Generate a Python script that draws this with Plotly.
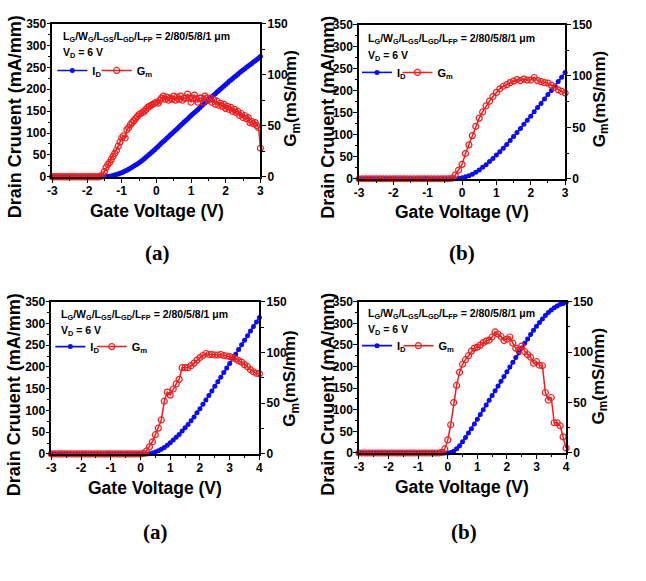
import plotly.graph_objects as go

W, H = 646, 581

# ---------------- data ----------------
# gate-voltage sweep grids
vg_a = [round(-3 + 0.05 * i, 2) for i in range(121)]
vg_b = [round(-3 + 0.1 * i, 1) for i in range(61)]
vg_c = [round(-3 + 0.1 * i, 1) for i in range(71)]
vg_d = [round(-3 + 0.1 * i, 1) for i in range(71)]

# panel (a) top-left, drain current (mA/mm), step 0.05 V
id_a = [0, 0, 0, 0, 0, 0, 0, 0, 0, 0,
        0, 0, 0, 0, 0, 0, 0, 0, 0, 0,
        0, 0, 0, 0, 0, 0, 0, 0, 0, 0,
        0.2, 0.5, 1, 1.5, 2, 3, 4, 5, 6.5, 8, 9.5,
        11, 13, 15, 17, 19.5, 22, 24.5, 27, 29.5, 32,
        35, 38, 41, 44.5, 48, 51.5, 55, 58.5, 62, 66,
        69.5, 73, 77, 80.5, 84, 88, 91.5, 95.5, 99, 103,
        106.5, 110, 114, 117.5, 121, 125, 128.5, 132, 136, 140,
        143.5, 147, 150.5, 154, 158, 161.5, 165, 168.5, 172, 176,
        179.5, 183, 186.5, 190, 193.5, 197, 200.5, 204, 207.5, 211,
        214.5, 218, 221, 224.5, 228, 231, 234.5, 237.5, 241, 244,
        247, 250, 253, 256, 259, 262, 265, 268, 271.5, 275]
# panel (a) transconductance (mS/mm)
gm_a = [0, 0, 0, 0, 0, 0, 0, 0, 0, 0,
        0, 0, 0, 0, 0, 0, 0, 0, 0, 0,
        0, 0, 0, 0, 0, 0, 0, 0,
        0.6, 2, 5, 9, 12, 14, 17, 20, 23, 26, 30, 34, 38,
        40, 38, 46, 48, 51, 53, 55, 57, 59, 61,
        62, 63, 64, 66, 68, 69, 70, 71, 72, 73,
        72, 75, 77, 79, 76, 78, 75, 77, 76, 79,
        75, 78, 76, 79, 75, 77, 77, 81, 77, 73,
        77, 80, 76, 73, 77, 77, 73, 79, 77, 75,
        77, 73, 76, 71, 74, 70, 72, 69, 71, 67,
        69, 66, 68, 64, 66, 63, 64, 60, 62, 58,
        60, 57, 58, 53, 54, 52, 53, 50, 48, 28]

# panel (b) top-right, step 0.1 V
id_b = [0, 0, 0, 0, 0, 0, 0, 0, 0, 0,
        0, 0, 0, 0, 0, 0, 0, 0, 0, 0,
        0, 0, 0, 0, 0, 0, 0, 0,
        0.3, 1, 2.5, 4.5, 7, 10.5, 15, 20, 26, 32, 39, 46, 54,
        61.5, 69.5, 78, 87, 96, 105, 114, 123.5, 133, 142,
        152, 161.5, 171, 181, 191, 200.5, 210.5, 220.5, 230.5, 241]
gm_b = [0, 0, 0, 0, 0, 0, 0, 0, 0, 0,
        0, 0, 0, 0, 0, 0, 0, 0, 0, 0,
        0, 0, 0, 0, 0, 0, 0,
        0.5, 3.5, 8.5, 14, 24.5, 33, 42, 51, 59, 65,
        71, 75.5, 80, 84, 87.5, 90, 91.5, 93.5, 95, 96.5,
        95.5, 97, 96, 96, 98.5, 95.5, 94.5, 93.5, 93, 91,
        89, 86.5, 85, 83.5]

# panel (c) bottom-left, step 0.1 V
id_c = [0, 0, 0, 0, 0, 0, 0, 0, 0, 0,
        0, 0, 0, 0, 0, 0, 0, 0, 0, 0,
        0, 0, 0, 0, 0, 0, 0, 0, 0, 0,
        0, 0, 0,
        0.5, 2, 4.5, 7.5, 11, 15, 20, 26,
        32, 38.5, 45, 52.5, 60, 68, 76.5, 85, 94.5, 104,
        114, 124, 134.5, 145, 155.5, 166, 176.5, 187, 197.5, 208,
        219, 229.5, 240, 251, 261.5, 272, 282.5, 293, 303.5, 314]
gm_c = [0, 0, 0, 0, 0, 0, 0, 0, 0, 0,
        0, 0, 0, 0, 0, 0, 0, 0, 0, 0,
        0, 0, 0, 0, 0, 0, 0, 0, 0, 0,
        0,
        0.5, 3, 7, 12, 19, 25.5, 33.5, 52, 61, 58,
        64, 69, 73.5, 85, 85, 85, 87, 89.5, 92.5, 95,
        97, 99, 98, 98, 97.5, 97.5, 98, 97, 96.5, 96,
        95, 93.5, 92, 90.5, 88, 86, 83, 81, 79.5, 79]

# panel (d) bottom-right, step 0.1 V
id_d = [0, 0, 0, 0, 0, 0, 0, 0, 0, 0,
        0, 0, 0, 0, 0, 0, 0, 0, 0, 0,
        0, 0, 0, 0, 0, 0, 0, 0, 0, 0,
        0,
        1, 4, 10, 17, 26, 36, 46, 56, 67, 78,
        89, 100, 111, 122, 133, 144, 155, 166, 177, 188,
        199, 210, 221, 232, 243, 254, 264, 274, 284, 293,
        302, 310, 318, 325, 331, 336, 340, 344, 346, 348]
gm_d = [0, 0, 0, 0, 0, 0, 0, 0, 0, 0,
        0, 0, 0, 0, 0, 0, 0, 0, 0, 0,
        0, 0, 0, 0, 0, 0, 0, 0,
        0.6, 4, 13, 28, 50, 67, 80, 88, 92.5, 96.5,
        101, 104, 105, 107, 109.5, 111, 112, 115, 120, 118,
        115.5, 111.5, 113, 115, 109, 104, 102, 106, 100.5, 97.5,
        95, 89, 90.5, 87, 86.5, 60, 52.5, 55, 30, 30,
        27, 16, 5]

for v, a, b in [(vg_a, id_a, gm_a), (vg_b, id_b, gm_b), (vg_c, id_c, gm_c), (vg_d, id_d, gm_d)]:
    assert len(v) == len(a) == len(b), (len(v), len(a), len(b))

xtick_vals_3 = [-3, -2, -1, 0, 1, 2, 3]
xtick_text_3 = ["-3", "-2", "-1", "0", "1", "2", "3"]
xtick_vals_4 = [-3, -2, -1, 0, 1, 2, 3, 4]
xtick_text_4 = ["-3", "-2", "-1", "0", "1", "2", "3", "4"]

panel_labels = ["(a)", "(b)", "(a)", "(b)"]
x_title = "Gate Voltage (V)"
yl_title = "Drain Cruuent (mA/mm)"
yr_title = "G<sub>m</sub>(mS/mm)"
note1 = "L<sub>G</sub>/W<sub>G</sub>/L<sub>GS</sub>/L<sub>GD</sub>/L<sub>FP</sub> = 2/80/5/8/1 \u03bcm"
note2 = "V<sub>D</sub> = 6 V"
name_id = "I<sub>D</sub>"
name_gm = "G<sub>m</sub>"

# ---------------- layout geometry (pixels) ----------------
panels = [
    dict(v=vg_a, i=id_a, g=gm_a, box=(48, 259, 17, 174), xr=[-3, 3], tv=xtick_vals_3, tt=xtick_text_3,
         xt=(154, 209), ylt=(10, 112), yrt=(291, 93), lab=(155, 252), n1=(57, 31), n2=(57, 47),
         leg=(57, 98, 65)),
    dict(v=vg_b, i=id_b, g=gm_b, box=(359, 568, 18, 176), xr=[-3, 3], tv=xtick_vals_3, tt=xtick_text_3,
         xt=(463, 210), ylt=(328, 113), yrt=(604, 94), lab=(463, 252), n1=(366, 33), n2=(366, 50),
         leg=(366, 403, 67)),
    dict(v=vg_c, i=id_c, g=gm_c, box=(47, 258, 302, 458), xr=[-3, 4], tv=xtick_vals_4, tt=xtick_text_4,
         xt=(152, 493), ylt=(10, 397), yrt=(290, 380), lab=(153, 538), n1=(55, 316), n2=(55, 332),
         leg=(55, 93, 348)),
    dict(v=vg_d, i=id_d, g=gm_d, box=(359, 569, 302, 457), xr=[-3, 4], tv=xtick_vals_4, tt=xtick_text_4,
         xt=(463, 492), ylt=(328, 397), yrt=(603, 378), lab=(465, 538), n1=(366, 315), n2=(366, 331),
         leg=(366, 404, 347)),
]

BLUE = "#0a0aff"
RED = "#f41c1c"
SANS = "Liberation Sans, Arial, sans-serif"
SERIF = "Liberation Serif, Times New Roman, serif"


def fx(px):
    return px / W


def fy(py):
    return 1 - py / H


fig = go.Figure()
layout = dict(
    width=W, height=H, margin=dict(l=0, r=0, t=0, b=0),
    paper_bgcolor="white", plot_bgcolor="white", showlegend=True,
    annotations=[],
)

tickfont = dict(family=SANS, size=12, color="black", weight="bold")
axis_common = dict(showline=True, linecolor="black", linewidth=1.5, showgrid=False, zeroline=False,
                   ticks="outside", ticklen=4, tickwidth=1.3, tickcolor="black", tickfont=tickfont,
                   fixedrange=True)

for k, p in enumerate(panels):
    sx = "" if k == 0 else str(k + 1)
    xa = "x" + sx
    yl_n = 2 * k + 1
    yr_n = 2 * k + 2
    yl = "y" if yl_n == 1 else f"y{yl_n}"
    yr = f"y{yr_n}"
    x0, x1, top, bot = p["box"]
    leg_id = "legend" if k == 0 else f"legend{2 * k + 1}"
    leg_gm = f"legend{2 * k + 2}"

    fig.add_trace(go.Scatter(
        x=p["v"], y=p["i"], xaxis=xa, yaxis=yl, mode="lines+markers", name=name_id,
        line=dict(color=BLUE, width=1.6), marker=dict(symbol="circle", size=5, color=BLUE),
        cliponaxis=False, legend=leg_id, hoverinfo="skip"))
    fig.add_trace(go.Scatter(
        x=p["v"], y=p["g"], xaxis=xa, yaxis=yr, mode="lines+markers", name=name_gm,
        line=dict(color=RED, width=1.5),
        marker=dict(symbol="circle-open", size=6, color=RED, line=dict(width=1.2)),
        cliponaxis=False, legend=leg_gm, hoverinfo="skip"))

    layout["xaxis" + sx] = dict(axis_common, domain=[fx(x0), fx(x1)], range=p["xr"], anchor=yl,
                                tickvals=p["tv"], ticktext=p["tt"], mirror=True, ticklabelstandoff=-2,
                                minor=dict(ticks="outside", ticklen=2.5, tickwidth=1.2, dtick=0.5,
                                           tickcolor="black"))
    layout["yaxis" + ("" if yl_n == 1 else str(yl_n))] = dict(
        axis_common, domain=[fy(bot), fy(top)], range=[0, 350], anchor=xa, dtick=50, side="left",
        ticklabelstandoff=-2,
        minor=dict(ticks="outside", ticklen=2.5, tickwidth=1.2, dtick=25, tickcolor="black"))
    layout["yaxis" + str(yr_n)] = dict(
        axis_common, range=[0, 150], anchor=xa, overlaying=yl, side="right", dtick=50,
        ticklabelstandoff=-1,
        minor=dict(ticks="outside", ticklen=2.5, tickwidth=1.2, dtick=25, tickcolor="black"))

    legfont = dict(family=SANS, size=11, color="black", weight="bold")
    lx_id, lx_gm, ly = p["leg"]
    for name, lx in [(leg_id, lx_id - 9), (leg_gm, lx_gm - 5)]:
        layout[name] = dict(x=fx(lx), y=fy(ly), xanchor="left", yanchor="middle",
                            orientation="h", bgcolor="rgba(0,0,0,0)", borderwidth=0,
                            font=legfont, itemwidth=30, itemclick=False, itemdoubleclick=False)

    ann = layout["annotations"]
    ann.append(dict(text=x_title, x=fx(p["xt"][0]), y=fy(p["xt"][1]), xref="paper", yref="paper",
                    showarrow=False, xanchor="center", yanchor="middle",
                    font=dict(family=SANS, size=17.5, color="black", weight="bold")))
    ann.append(dict(text=yl_title, x=fx(p["ylt"][0]), y=fy(p["ylt"][1]), xref="paper", yref="paper",
                    showarrow=False, xanchor="center", yanchor="middle", textangle=-90,
                    font=dict(family=SANS, size=18, color="black", weight="bold")))
    ann.append(dict(text=yr_title, x=fx(p["yrt"][0]), y=fy(p["yrt"][1]), xref="paper", yref="paper",
                    showarrow=False, xanchor="center", yanchor="middle", textangle=-90,
                    font=dict(family=SANS, size=17, color="black", weight="bold")))
    ann.append(dict(text=note1, x=fx(p["n1"][0]), y=fy(p["n1"][1]), xref="paper", yref="paper",
                    showarrow=False, xanchor="left", yanchor="middle",
                    font=dict(family=SANS, size=10.5, color="black", weight="bold")))
    ann.append(dict(text=note2, x=fx(p["n2"][0]), y=fy(p["n2"][1]), xref="paper", yref="paper",
                    showarrow=False, xanchor="left", yanchor="middle",
                    font=dict(family=SANS, size=10.5, color="black", weight="bold")))
    ann.append(dict(text=panel_labels[k], x=fx(p["lab"][0]), y=fy(p["lab"][1]), xref="paper",
                    yref="paper", showarrow=False, xanchor="center", yanchor="middle",
                    font=dict(family=SERIF, size=21, color="black", weight="bold")))

fig.update_layout(**layout)
fig.write_html("out.html")
